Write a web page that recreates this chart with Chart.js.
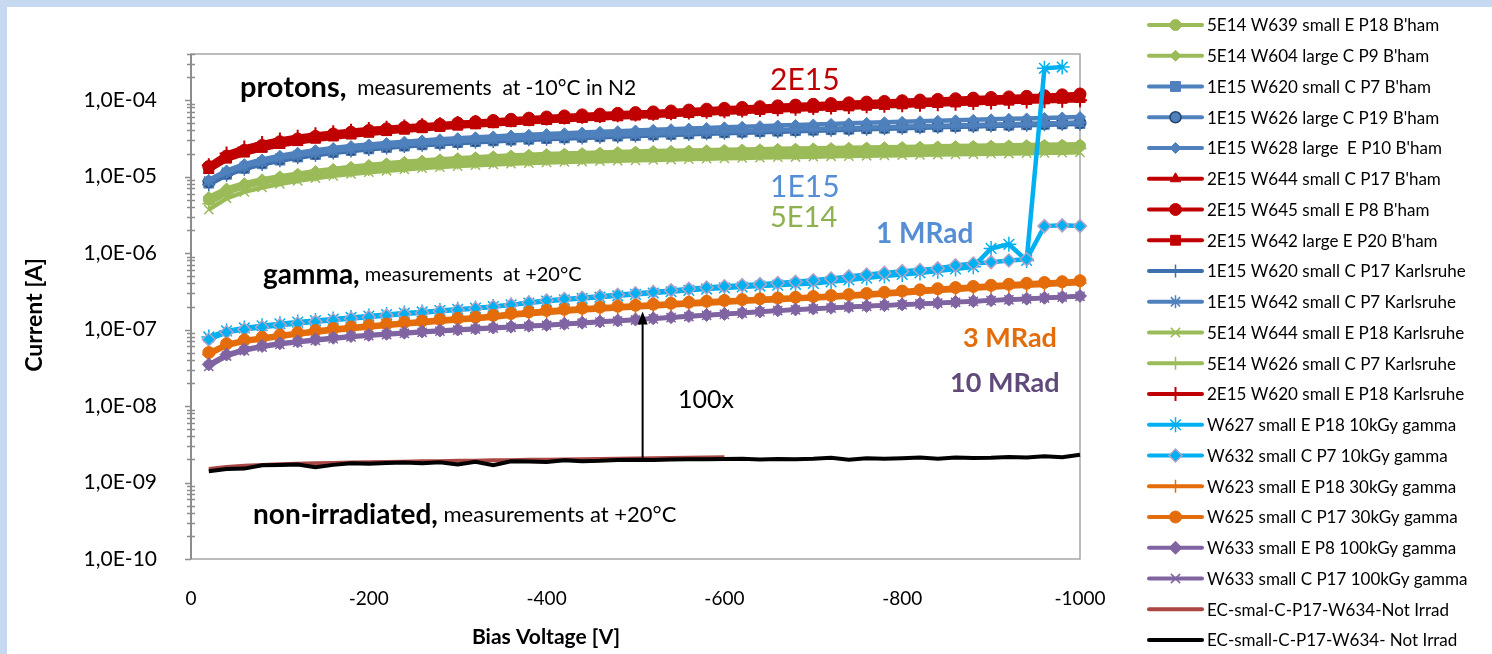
<!DOCTYPE html>
<html>
<head>
<meta charset="utf-8">
<script src="https://cdn.jsdelivr.net/npm/chart.js@4.4.1/dist/chart.umd.min.js"></script>
<style>
  html, body { margin: 0; padding: 0; width: 1492px; height: 654px; overflow: hidden; background: #c6d9f0; }
  #panel { position: absolute; left: 7px; top: 7px; width: 1485px; height: 647px; background: #fff; }
  canvas { display: block; }
</style>
</head>
<body>
<div id="panel"><canvas id="iv" width="1485" height="647"></canvas></div>
<script>
const FONT = 'Lato, "Open Sans", sans-serif';

// bias voltage steps [V]
const volts = [-20, -40, -60, -80, -100, -120, -140, -160, -180, -200,
  -220, -240, -260, -280, -300, -320, -340, -360, -380, -400,
  -420, -440, -460, -480, -500, -520, -540, -560, -580, -600,
  -620, -640, -660, -680, -700, -720, -740, -760, -780, -800,
  -820, -840, -860, -880, -900, -920, -940, -960, -980, -1000];

// y axis decades and their labels
const yTickValues = [1e-10, 1e-9, 1e-8, 1e-7, 1e-6, 1e-5, 1e-4];
const yTickLabels = ['1,0E-10', '1,0E-09', '1,0E-08', '1,0E-07', '1,0E-06', '1,0E-05', '1,0E-04'];

// protons, measurements at -10C [A]
const p5e14_w639 = [5.0e-6, 6.4e-6, 7.6e-6, 8.6e-6, 9.5e-6, 1.03e-5, 1.11e-5, 1.19e-5, 1.27e-5, 1.34e-5,
  1.41e-5, 1.47e-5, 1.53e-5, 1.59e-5, 1.65e-5, 1.7e-5, 1.75e-5, 1.79e-5, 1.83e-5, 1.87e-5,
  1.9e-5, 1.93e-5, 1.96e-5, 1.99e-5, 2.02e-5, 2.04e-5, 2.06e-5, 2.08e-5, 2.1e-5, 2.12e-5,
  2.14e-5, 2.16e-5, 2.18e-5, 2.2e-5, 2.22e-5, 2.24e-5, 2.26e-5, 2.28e-5, 2.3e-5, 2.32e-5,
  2.34e-5, 2.36e-5, 2.38e-5, 2.4e-5, 2.42e-5, 2.44e-5, 2.46e-5, 2.48e-5, 2.5e-5, 2.52e-5];
const p5e14_w604 = [5.4e-6, 7.0e-6, 8.2e-6, 9.2e-6, 1.01e-5, 1.09e-5, 1.18e-5, 1.26e-5, 1.34e-5, 1.42e-5,
  1.49e-5, 1.56e-5, 1.62e-5, 1.68e-5, 1.74e-5, 1.79e-5, 1.84e-5, 1.89e-5, 1.93e-5, 1.97e-5,
  2.0e-5, 2.03e-5, 2.06e-5, 2.09e-5, 2.12e-5, 2.15e-5, 2.17e-5, 2.19e-5, 2.21e-5, 2.24e-5,
  2.26e-5, 2.28e-5, 2.3e-5, 2.32e-5, 2.34e-5, 2.36e-5, 2.38e-5, 2.4e-5, 2.42e-5, 2.44e-5,
  2.46e-5, 2.48e-5, 2.5e-5, 2.52e-5, 2.54e-5, 2.56e-5, 2.58e-5, 2.6e-5, 2.62e-5, 2.64e-5];
const p1e15_w620 = [8.2e-6, 1.07e-5, 1.28e-5, 1.47e-5, 1.64e-5, 1.8e-5, 1.94e-5, 2.07e-5, 2.19e-5, 2.3e-5,
  2.4e-5, 2.5e-5, 2.6e-5, 2.69e-5, 2.78e-5, 2.86e-5, 2.93e-5, 3.0e-5, 3.07e-5, 3.14e-5,
  3.2e-5, 3.26e-5, 3.32e-5, 3.38e-5, 3.44e-5, 3.5e-5, 3.56e-5, 3.62e-5, 3.68e-5, 3.74e-5,
  3.8e-5, 3.86e-5, 3.92e-5, 3.98e-5, 4.04e-5, 4.1e-5, 4.16e-5, 4.22e-5, 4.28e-5, 4.34e-5,
  4.4e-5, 4.46e-5, 4.52e-5, 4.58e-5, 4.64e-5, 4.7e-5, 4.76e-5, 4.82e-5, 4.88e-5, 4.94e-5];
const p1e15_w626 = [8.5e-6, 1.1e-5, 1.32e-5, 1.52e-5, 1.7e-5, 1.86e-5, 2.0e-5, 2.13e-5, 2.25e-5, 2.37e-5,
  2.48e-5, 2.58e-5, 2.68e-5, 2.77e-5, 2.86e-5, 2.94e-5, 3.02e-5, 3.09e-5, 3.16e-5, 3.23e-5,
  3.29e-5, 3.35e-5, 3.41e-5, 3.47e-5, 3.53e-5, 3.59e-5, 3.65e-5, 3.71e-5, 3.77e-5, 3.83e-5,
  3.89e-5, 3.95e-5, 4.01e-5, 4.07e-5, 4.13e-5, 4.19e-5, 4.25e-5, 4.31e-5, 4.37e-5, 4.43e-5,
  4.49e-5, 4.55e-5, 4.61e-5, 4.67e-5, 4.73e-5, 4.79e-5, 4.85e-5, 4.91e-5, 4.97e-5, 5.03e-5];
const p1e15_w628 = [9.0e-6, 1.2e-5, 1.45e-5, 1.67e-5, 1.87e-5, 2.05e-5, 2.21e-5, 2.36e-5, 2.5e-5, 2.63e-5,
  2.75e-5, 2.86e-5, 2.97e-5, 3.07e-5, 3.17e-5, 3.26e-5, 3.35e-5, 3.44e-5, 3.52e-5, 3.6e-5,
  3.68e-5, 3.76e-5, 3.84e-5, 3.92e-5, 4.0e-5, 4.08e-5, 4.16e-5, 4.24e-5, 4.32e-5, 4.4e-5,
  4.48e-5, 4.56e-5, 4.64e-5, 4.72e-5, 4.8e-5, 4.88e-5, 4.96e-5, 5.04e-5, 5.12e-5, 5.2e-5,
  5.28e-5, 5.36e-5, 5.44e-5, 5.52e-5, 5.6e-5, 5.68e-5, 5.76e-5, 5.84e-5, 5.92e-5, 6.0e-5];
const p2e15_w644 = [1.2e-5, 1.65e-5, 1.98e-5, 2.28e-5, 2.55e-5, 2.78e-5, 3.0e-5, 3.22e-5, 3.42e-5, 3.6e-5,
  3.78e-5, 3.96e-5, 4.13e-5, 4.3e-5, 4.47e-5, 4.64e-5, 4.8e-5, 4.96e-5, 5.12e-5, 5.28e-5,
  5.44e-5, 5.6e-5, 5.75e-5, 5.9e-5, 6.05e-5, 6.2e-5, 6.36e-5, 6.52e-5, 6.68e-5, 6.84e-5,
  7.0e-5, 7.16e-5, 7.32e-5, 7.48e-5, 7.64e-5, 7.8e-5, 7.96e-5, 8.12e-5, 8.28e-5, 8.44e-5,
  8.6e-5, 8.77e-5, 8.94e-5, 9.11e-5, 9.28e-5, 9.45e-5, 9.62e-5, 9.8e-5, 9.98e-5, 1.02e-4];
const p2e15_w645 = [1.35e-5, 1.85e-5, 2.2e-5, 2.55e-5, 2.85e-5, 3.1e-5, 3.35e-5, 3.6e-5, 3.8e-5, 4.0e-5,
  4.2e-5, 4.4e-5, 4.6e-5, 4.8e-5, 5.0e-5, 5.2e-5, 5.4e-5, 5.6e-5, 5.8e-5, 6.0e-5,
  6.2e-5, 6.4e-5, 6.55e-5, 6.7e-5, 6.85e-5, 7.0e-5, 7.2e-5, 7.4e-5, 7.6e-5, 7.8e-5,
  8.0e-5, 8.2e-5, 8.4e-5, 8.6e-5, 8.8e-5, 9.0e-5, 9.2e-5, 9.4e-5, 9.6e-5, 9.8e-5,
  1.0e-4, 1.02e-4, 1.04e-4, 1.06e-4, 1.08e-4, 1.1e-4, 1.12e-4, 1.14e-4, 1.17e-4, 1.2e-4];
const p2e15_w642 = [1.28e-5, 1.75e-5, 2.1e-5, 2.42e-5, 2.7e-5, 2.95e-5, 3.18e-5, 3.4e-5, 3.6e-5, 3.8e-5,
  3.98e-5, 4.16e-5, 4.34e-5, 4.52e-5, 4.7e-5, 4.88e-5, 5.05e-5, 5.22e-5, 5.39e-5, 5.56e-5,
  5.73e-5, 5.9e-5, 6.06e-5, 6.22e-5, 6.38e-5, 6.54e-5, 6.7e-5, 6.87e-5, 7.04e-5, 7.21e-5,
  7.38e-5, 7.55e-5, 7.72e-5, 7.89e-5, 8.06e-5, 8.23e-5, 8.4e-5, 8.58e-5, 8.76e-5, 8.94e-5,
  9.12e-5, 9.3e-5, 9.48e-5, 9.66e-5, 9.84e-5, 1.0e-4, 1.02e-4, 1.04e-4, 1.06e-4, 1.08e-4];
const k1e15_w620 = [7.8e-6, 1.04e-5, 1.25e-5, 1.44e-5, 1.61e-5, 1.76e-5, 1.9e-5, 2.03e-5, 2.15e-5, 2.26e-5,
  2.37e-5, 2.47e-5, 2.56e-5, 2.65e-5, 2.73e-5, 2.81e-5, 2.88e-5, 2.95e-5, 3.02e-5, 3.08e-5,
  3.14e-5, 3.2e-5, 3.26e-5, 3.32e-5, 3.38e-5, 3.44e-5, 3.5e-5, 3.56e-5, 3.62e-5, 3.68e-5,
  3.74e-5, 3.8e-5, 3.86e-5, 3.92e-5, 3.98e-5, 4.04e-5, 4.1e-5, 4.16e-5, 4.22e-5, 4.28e-5,
  4.34e-5, 4.4e-5, 4.46e-5, 4.52e-5, 4.58e-5, 4.64e-5, 4.7e-5, 4.76e-5, 4.82e-5, 4.88e-5];
const k1e15_w642 = [8.8e-6, 1.14e-5, 1.36e-5, 1.56e-5, 1.74e-5, 1.9e-5, 2.04e-5, 2.17e-5, 2.29e-5, 2.41e-5,
  2.52e-5, 2.62e-5, 2.72e-5, 2.81e-5, 2.9e-5, 2.98e-5, 3.06e-5, 3.13e-5, 3.2e-5, 3.27e-5,
  3.33e-5, 3.39e-5, 3.45e-5, 3.51e-5, 3.57e-5, 3.63e-5, 3.69e-5, 3.75e-5, 3.81e-5, 3.87e-5,
  3.93e-5, 3.99e-5, 4.05e-5, 4.11e-5, 4.17e-5, 4.23e-5, 4.29e-5, 4.35e-5, 4.41e-5, 4.47e-5,
  4.53e-5, 4.59e-5, 4.65e-5, 4.71e-5, 4.77e-5, 4.83e-5, 4.89e-5, 4.95e-5, 5.01e-5, 5.07e-5];
const k5e14_w644 = [3.7e-6, 5.2e-6, 6.3e-6, 7.2e-6, 8.0e-6, 8.8e-6, 9.5e-6, 1.02e-5, 1.08e-5, 1.14e-5,
  1.19e-5, 1.24e-5, 1.29e-5, 1.33e-5, 1.37e-5, 1.41e-5, 1.44e-5, 1.47e-5, 1.5e-5, 1.53e-5,
  1.55e-5, 1.57e-5, 1.59e-5, 1.61e-5, 1.63e-5, 1.65e-5, 1.67e-5, 1.69e-5, 1.71e-5, 1.73e-5,
  1.75e-5, 1.77e-5, 1.79e-5, 1.8e-5, 1.82e-5, 1.84e-5, 1.85e-5, 1.87e-5, 1.89e-5, 1.9e-5,
  1.92e-5, 1.94e-5, 1.95e-5, 1.97e-5, 1.99e-5, 2.0e-5, 2.02e-5, 2.04e-5, 2.05e-5, 2.07e-5];
const k5e14_w626 = [4.4e-6, 6.1e-6, 7.3e-6, 8.3e-6, 9.1e-6, 9.8e-6, 1.05e-5, 1.12e-5, 1.18e-5, 1.24e-5,
  1.3e-5, 1.35e-5, 1.4e-5, 1.45e-5, 1.5e-5, 1.54e-5, 1.58e-5, 1.62e-5, 1.65e-5, 1.68e-5,
  1.71e-5, 1.74e-5, 1.77e-5, 1.8e-5, 1.82e-5, 1.84e-5, 1.86e-5, 1.88e-5, 1.9e-5, 1.92e-5,
  1.94e-5, 1.96e-5, 1.98e-5, 2.0e-5, 2.02e-5, 2.04e-5, 2.06e-5, 2.08e-5, 2.1e-5, 2.12e-5,
  2.14e-5, 2.16e-5, 2.18e-5, 2.2e-5, 2.22e-5, 2.24e-5, 2.26e-5, 2.28e-5, 2.3e-5, 2.32e-5];
const k2e15_w620 = [1.4e-5, 2.0e-5, 2.4e-5, 2.75e-5, 3.05e-5, 3.32e-5, 3.56e-5, 3.78e-5, 3.98e-5, 4.17e-5,
  4.35e-5, 4.52e-5, 4.68e-5, 4.84e-5, 5.0e-5, 5.15e-5, 5.3e-5, 5.45e-5, 5.6e-5, 5.75e-5,
  5.9e-5, 6.04e-5, 6.18e-5, 6.32e-5, 6.46e-5, 6.6e-5, 6.74e-5, 6.88e-5, 7.02e-5, 7.16e-5,
  7.3e-5, 7.44e-5, 7.58e-5, 7.72e-5, 7.86e-5, 8.0e-5, 8.14e-5, 8.28e-5, 8.42e-5, 8.56e-5,
  8.7e-5, 8.84e-5, 8.98e-5, 9.12e-5, 9.26e-5, 9.4e-5, 9.54e-5, 9.68e-5, 9.82e-5, 9.96e-5];

// gamma, measurements at +20C [A]
const g10_w627 = [8.0e-8, 9.6e-8, 1.05e-7, 1.12e-7, 1.19e-7, 1.25e-7, 1.31e-7, 1.37e-7, 1.44e-7, 1.5e-7,
  1.57e-7, 1.64e-7, 1.7e-7, 1.77e-7, 1.84e-7, 1.91e-7, 2.0e-7, 2.1e-7, 2.22e-7, 2.35e-7,
  2.45e-7, 2.55e-7, 2.65e-7, 2.76e-7, 2.88e-7, 3.0e-7, 3.12e-7, 3.25e-7, 3.38e-7, 3.5e-7,
  3.6e-7, 3.7e-7, 3.8e-7, 3.9e-7, 4.0e-7, 4.2e-7, 4.45e-7, 4.7e-7, 5.0e-7, 5.25e-7,
  5.5e-7, 5.8e-7, 6.2e-7, 6.6e-7, 1.15e-6, 1.3e-6, 8.0e-7, 2.6e-4, 2.7e-4];
const g10_w632 = [7.4e-8, 9.2e-8, 1.0e-7, 1.07e-7, 1.14e-7, 1.2e-7, 1.26e-7, 1.32e-7, 1.39e-7, 1.45e-7,
  1.52e-7, 1.59e-7, 1.66e-7, 1.73e-7, 1.8e-7, 1.88e-7, 1.98e-7, 2.1e-7, 2.25e-7, 2.4e-7,
  2.5e-7, 2.6e-7, 2.72e-7, 2.85e-7, 2.98e-7, 3.1e-7, 3.25e-7, 3.4e-7, 3.55e-7, 3.68e-7,
  3.8e-7, 3.92e-7, 4.05e-7, 4.2e-7, 4.4e-7, 4.65e-7, 4.95e-7, 5.25e-7, 5.5e-7, 5.8e-7,
  6.0e-7, 6.3e-7, 6.9e-7, 7.3e-7, 7.6e-7, 8.0e-7, 8.3e-7, 2.25e-6, 2.3e-6, 2.25e-6];
const g30_w623 = [4.7e-8, 6.1e-8, 6.9e-8, 7.4e-8, 8.0e-8, 8.6e-8, 9.1e-8, 9.6e-8, 1.01e-7, 1.06e-7,
  1.11e-7, 1.16e-7, 1.21e-7, 1.26e-7, 1.31e-7, 1.36e-7, 1.43e-7, 1.51e-7, 1.58e-7, 1.65e-7,
  1.71e-7, 1.77e-7, 1.83e-7, 1.89e-7, 1.94e-7, 2.0e-7, 2.06e-7, 2.12e-7, 2.18e-7, 2.24e-7,
  2.3e-7, 2.36e-7, 2.42e-7, 2.48e-7, 2.54e-7, 2.61e-7, 2.68e-7, 2.77e-7, 2.86e-7, 2.96e-7,
  3.07e-7, 3.18e-7, 3.29e-7, 3.4e-7, 3.51e-7, 3.62e-7, 3.73e-7, 3.83e-7, 3.93e-7, 4.04e-7];
const g30_w625 = [5.0e-8, 6.5e-8, 7.3e-8, 7.9e-8, 8.5e-8, 9.1e-8, 9.7e-8, 1.03e-7, 1.08e-7, 1.13e-7,
  1.18e-7, 1.24e-7, 1.29e-7, 1.35e-7, 1.4e-7, 1.45e-7, 1.53e-7, 1.62e-7, 1.7e-7, 1.78e-7,
  1.84e-7, 1.9e-7, 1.96e-7, 2.02e-7, 2.08e-7, 2.14e-7, 2.2e-7, 2.27e-7, 2.34e-7, 2.4e-7,
  2.46e-7, 2.52e-7, 2.58e-7, 2.64e-7, 2.7e-7, 2.78e-7, 2.86e-7, 2.96e-7, 3.06e-7, 3.18e-7,
  3.3e-7, 3.42e-7, 3.54e-7, 3.66e-7, 3.78e-7, 3.9e-7, 4.02e-7, 4.12e-7, 4.22e-7, 4.35e-7];
const g100_w633e = [3.5e-8, 4.7e-8, 5.5e-8, 6.1e-8, 6.6e-8, 7.0e-8, 7.4e-8, 7.8e-8, 8.2e-8, 8.5e-8,
  8.8e-8, 9.1e-8, 9.4e-8, 9.7e-8, 1.0e-7, 1.03e-7, 1.06e-7, 1.09e-7, 1.12e-7, 1.15e-7,
  1.19e-7, 1.23e-7, 1.27e-7, 1.31e-7, 1.35e-7, 1.4e-7, 1.45e-7, 1.5e-7, 1.55e-7, 1.6e-7,
  1.66e-7, 1.72e-7, 1.78e-7, 1.83e-7, 1.88e-7, 1.93e-7, 1.98e-7, 2.03e-7, 2.08e-7, 2.13e-7,
  2.18e-7, 2.23e-7, 2.29e-7, 2.35e-7, 2.41e-7, 2.47e-7, 2.53e-7, 2.6e-7, 2.67e-7, 2.75e-7];
const g100_w633c = [3.3e-8, 4.5e-8, 5.3e-8, 5.9e-8, 6.4e-8, 6.8e-8, 7.2e-8, 7.6e-8, 8.0e-8, 8.3e-8,
  8.6e-8, 8.9e-8, 9.2e-8, 9.5e-8, 9.8e-8, 1.01e-7, 1.04e-7, 1.07e-7, 1.1e-7, 1.13e-7,
  1.17e-7, 1.21e-7, 1.25e-7, 1.29e-7, 1.33e-7, 1.38e-7, 1.43e-7, 1.48e-7, 1.53e-7, 1.58e-7,
  1.64e-7, 1.7e-7, 1.76e-7, 1.81e-7, 1.86e-7, 1.91e-7, 1.96e-7, 2.01e-7, 2.06e-7, 2.11e-7,
  2.16e-7, 2.21e-7, 2.27e-7, 2.33e-7, 2.39e-7, 2.45e-7, 2.51e-7, 2.58e-7, 2.65e-7, 2.72e-7];

// non-irradiated [A]
const ec_smal = [1.5e-9, 1.6e-9, 1.66e-9, 1.7e-9, 1.73e-9, 1.76e-9, 1.78e-9, 1.8e-9, 1.82e-9, 1.84e-9,
  1.86e-9, 1.87e-9, 1.89e-9, 1.9e-9, 1.92e-9, 1.93e-9, 1.95e-9, 1.96e-9, 1.98e-9, 1.99e-9,
  2.0e-9, 2.02e-9, 2.03e-9, 2.05e-9, 2.06e-9, 2.08e-9, 2.09e-9, 2.11e-9, 2.12e-9, 2.14e-9];
const ec_small = [1.4e-9, 1.5e-9, 1.52e-9, 1.68e-9, 1.7e-9, 1.72e-9, 1.58e-9, 1.7e-9, 1.78e-9, 1.76e-9,
  1.8e-9, 1.82e-9, 1.79e-9, 1.84e-9, 1.72e-9, 1.86e-9, 1.68e-9, 1.9e-9, 1.88e-9, 1.86e-9,
  1.96e-9, 1.9e-9, 1.92e-9, 1.97e-9, 1.99e-9, 1.97e-9, 2.0e-9, 2.02e-9, 2.01e-9, 2.03e-9,
  2.04e-9, 2.0e-9, 2.03e-9, 2.02e-9, 2.04e-9, 2.1e-9, 1.98e-9, 2.08e-9, 2.05e-9, 2.08e-9,
  2.13e-9, 2.05e-9, 2.12e-9, 2.09e-9, 2.1e-9, 2.16e-9, 2.12e-9, 2.2e-9, 2.14e-9, 2.3e-9];

const GREEN = '#9bbb59', BLUE = '#4f81bd', DBLUE = '#3e6fae', RED = '#c00000',
      CYAN = '#00b0f0', ORANGE = '#e46c0a', PURPLE = '#8064a2';

const series = [
  { label: "5E14 W639 small E P18 B'ham", values: p5e14_w639, color: GREEN, marker: 'circle', r: 5.5 },
  { label: "5E14 W604 large C P9 B'ham", values: p5e14_w604, color: GREEN, marker: 'rectRot', r: 5.5 },
  { label: "1E15 W620 small C P7 B'ham", values: p1e15_w620, color: BLUE, marker: 'rect', r: 7 },
  { label: "1E15 W626 large C P19 B'ham", values: p1e15_w626, color: BLUE, marker: 'circle', r: 5.5, edge: '#27466e', pw: 1.5 },
  { label: "1E15 W628 large  E P10 B'ham", values: p1e15_w628, color: BLUE, marker: 'rectRot', r: 5.5 },
  { label: "2E15 W644 small C P17 B'ham", values: p2e15_w644, color: RED, marker: 'triangle', r: 6 },
  { label: "2E15 W645 small E P8 B'ham", values: p2e15_w645, color: RED, marker: 'circle', r: 6 },
  { label: "2E15 W642 large E P20 B'ham", values: p2e15_w642, color: RED, marker: 'rect', r: 7 },
  { label: "1E15 W620 small C P17 Karlsruhe", values: k1e15_w620, color: DBLUE, marker: 'cross', r: 6.5, pw: 1.5 },
  { label: "1E15 W642 small C P7 Karlsruhe", values: k1e15_w642, color: BLUE, marker: 'star', r: 6.5, pw: 1.5 },
  { label: "5E14 W644 small E P18 Karlsruhe", values: k5e14_w644, color: GREEN, marker: 'crossRot', r: 6.5, pw: 1.5 },
  { label: "5E14 W626 small C P7 Karlsruhe", values: k5e14_w626, color: GREEN, marker: 'cross', r: 6.5, pw: 1.5 },
  { label: "2E15 W620 small E P18 Karlsruhe", values: k2e15_w620, color: RED, marker: 'cross', r: 7, pw: 2 },
  { label: "W627 small E P18 10kGy gamma", values: g10_w627, color: CYAN, marker: 'star', r: 7.5, pw: 1.5 },
  { label: "W632 small C P7 10kGy gamma", values: g10_w632, color: CYAN, marker: 'rectRot', r: 6.5, edge: '#b3a2c7', pw: 1.5 },
  { label: "W623 small E P18 30kGy gamma", values: g30_w623, color: ORANGE, marker: 'cross', r: 6.5, pw: 1.5 },
  { label: "W625 small C P17 30kGy gamma", values: g30_w625, color: ORANGE, marker: 'circle', r: 6 },
  { label: "W633 small E P8 100kGy gamma", values: g100_w633e, color: PURPLE, marker: 'rectRot', r: 6.5 },
  { label: "W633 small C P17 100kGy gamma", values: g100_w633c, color: PURPLE, marker: 'crossRot', r: 6.5, pw: 1.5 },
  { label: "EC-smal-C-P17-W634-Not Irrad", values: ec_smal, color: '#a94744' },
  { label: "EC-small-C-P17-W634- Not Irrad", values: ec_small, color: '#000000' }
];

// plot frame + Excel style y tick marks + the 100x arrow
const framePlugin = {
  id: 'frame',
  beforeDatasetsDraw(chart) {
    const { ctx, chartArea: a, scales } = chart;
    ctx.save();
    ctx.strokeStyle = '#a6a6a6';
    ctx.lineWidth = 1.5;
    ctx.strokeRect(a.left, a.top, a.right - a.left, a.bottom - a.top);
    ctx.strokeStyle = '#8c8c8c';
    ctx.lineWidth = 2;
    ctx.beginPath();
    ctx.moveTo(a.left, a.top); ctx.lineTo(a.left, a.bottom);
    ctx.stroke();
    ctx.lineWidth = 1.5;
    const y = scales.y;
    for (let e = -10; e <= -4; e++) {
      for (let m = 1; m <= 9; m++) {
        const v = m * Math.pow(10, e);
        if (v > y.max * 1.0001) break;
        const py = Math.round(y.getPixelForValue(v)) + 0.5;
        ctx.beginPath();
        if (m === 1) { ctx.moveTo(a.left - 6, py); ctx.lineTo(a.left, py); }
        else { ctx.moveTo(a.left - 4, py); ctx.lineTo(a.left + 4, py); }
        ctx.stroke();
      }
    }
    ctx.restore();
  },
  afterDatasetsDraw(chart) {
    const { ctx, scales } = chart;
    const x = scales.x.getPixelForValue(-508);
    const y0 = scales.y.getPixelForValue(2.0e-9);
    const y1 = scales.y.getPixelForValue(1.72e-7);
    ctx.save();
    ctx.strokeStyle = '#000';
    ctx.fillStyle = '#000';
    ctx.lineWidth = 2;
    ctx.beginPath();
    ctx.moveTo(x, y0); ctx.lineTo(x, y1 + 10);
    ctx.stroke();
    ctx.beginPath();
    ctx.moveTo(x, y1); ctx.lineTo(x - 5, y1 + 13); ctx.lineTo(x + 5, y1 + 13);
    ctx.closePath();
    ctx.fill();
    ctx.restore();
  }
};

// text notes written on the plot
const notes = [
  { x: 233, y: 81, parts: [['protons,', 'bold', 29, '#000'], ['  measurements  at -10°C in N2', 'normal', 21, '#000']] },
  { x: 763, y: 73, parts: [['2E15', 'normal', 30, '#c00000']] },
  { x: 763, y: 180, parts: [['1E15', 'normal', 30, '#558ed5']] },
  { x: 763, y: 211, parts: [['5E14', 'normal', 29, '#8fb04f']] },
  { x: 869, y: 227, parts: [['1 MRad', 'bold', 28, '#558ed5']] },
  { x: 256, y: 268, parts: [['gamma,', 'bold', 28, '#000'], [' measurements  at +20°C', 'normal', 20, '#000']] },
  { x: 956, y: 331, parts: [['3 MRad', 'bold', 27, '#e46c0a']] },
  { x: 943, y: 376, parts: [['10 MRad', 'bold', 27, '#604a7b']] },
  { x: 671, y: 393, parts: [['100x', 'normal', 25, '#000']] },
  { x: 246, y: 508, parts: [['non-irradiated,', 'bold', 28, '#000'], [' measurements at +20°C', 'normal', 22, '#000']] }
];

const notesPlugin = {
  id: 'notes',
  afterDraw(chart) {
    const ctx = chart.ctx;
    ctx.save();
    ctx.textBaseline = 'middle';
    ctx.textAlign = 'left';
    notes.forEach(n => {
      let x = n.x;
      n.parts.forEach(([t, w, s, c]) => {
        ctx.font = w + ' ' + s + 'px ' + FONT;
        ctx.fillStyle = c;
        ctx.fillText(t, x, n.y);
        x += ctx.measureText(t).width;
      });
    });
    // axis titles
    ctx.fillStyle = '#000';
    ctx.font = 'bold 21px ' + FONT;
    ctx.textAlign = 'center';
    ctx.fillText('Bias Voltage [V]', 539, 630);
    ctx.font = 'bold 23px ' + FONT;
    ctx.translate(28, 308);
    ctx.rotate(-Math.PI / 2);
    ctx.fillText('Current [A]', 0, 0);
    ctx.restore();
  }
};

// legend at the right: line sample with marker in the middle
const legendPlugin = {
  id: 'sideLegend',
  afterDraw(chart) {
    const ctx = chart.ctx;
    ctx.save();
    chart.data.datasets.forEach((ds, i) => {
      const y = 18 + i * 30.75;
      ctx.strokeStyle = ds.borderColor;
      ctx.lineWidth = 4;
      ctx.lineCap = 'round';
      ctx.beginPath();
      ctx.moveTo(1142, y); ctx.lineTo(1195, y);
      ctx.stroke();
      if (ds.pointRadius > 0) {
        ctx.lineCap = 'butt';
        ctx.fillStyle = ds.pointBackgroundColor;
        ctx.strokeStyle = ds.pointBorderColor;
        ctx.lineWidth = ds.pointBorderWidth;
        Chart.helpers.drawPoint(ctx, { pointStyle: ds.pointStyle, radius: ds.pointRadius, rotation: 0, borderWidth: ds.pointBorderWidth }, 1168.5, y);
      }
      ctx.fillStyle = '#000';
      ctx.font = '17px ' + FONT;
      ctx.textBaseline = 'middle';
      ctx.textAlign = 'left';
      ctx.fillText(ds.label, 1200, y + 1);
    });
    ctx.restore();
  }
};

const datasets = series.map((s, i) => ({
  label: s.label,
  data: s.values.map((v, k) => ({ x: volts[k], y: v })),
  borderColor: s.color,
  backgroundColor: s.color,
  borderWidth: s.marker ? 4.5 : 4,
  pointStyle: s.marker || 'circle',
  pointRadius: s.marker ? s.r : 0,
  pointBackgroundColor: s.color,
  pointBorderColor: s.edge || s.color,
  pointBorderWidth: s.pw || 1,
  tension: 0,
  clip: false,
  order: -i
}));

new Chart(document.getElementById('iv'), {
  type: 'line',
  data: { datasets },
  options: {
    responsive: false,
    animation: false,
    events: [],
    layout: { padding: { top: 47, right: 412, left: 0, bottom: 0 } },
    plugins: { legend: { display: false }, tooltip: { enabled: false } },
    scales: {
      x: {
        type: 'linear', min: -1000, max: 0, reverse: true,
        afterFit: s => { s.height = 95; },
        grid: { display: false },
        border: { display: false },
        ticks: { stepSize: 200, padding: 20, color: '#000', font: { family: FONT, size: 19 }, callback: v => String(v) }
      },
      y: {
        type: 'logarithmic', min: 1e-10, max: 4e-4,
        afterFit: s => { s.width = 184; },
        afterBuildTicks: s => { s.ticks = yTickValues.map(v => ({ value: v })); },
        grid: { display: false },
        border: { display: false },
        ticks: {
          autoSkip: false, padding: 26, color: '#000', font: { family: FONT, size: 21 },
          callback: v => {
            const k = yTickValues.findIndex(t => Math.abs(t - v) / t < 1e-6);
            return k >= 0 ? yTickLabels[k] : '';
          }
        }
      }
    }
  },
  plugins: [framePlugin, notesPlugin, legendPlugin]
});
</script>
</body>
</html>
